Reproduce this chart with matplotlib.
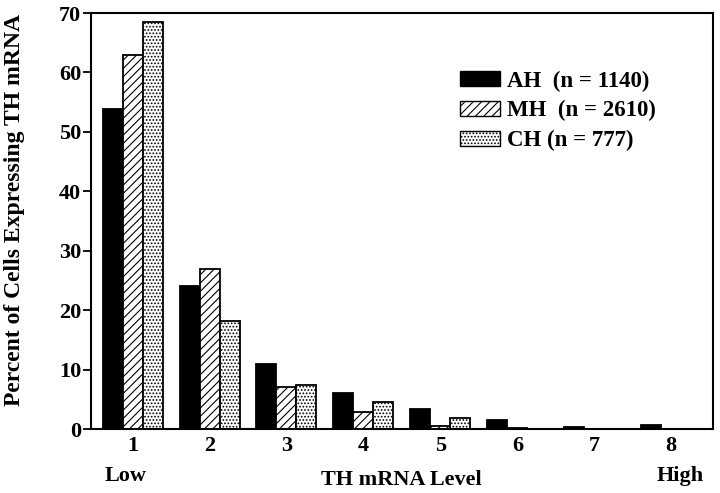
import numpy as np
import matplotlib.pyplot as plt
from matplotlib.patches import Patch

plt.rcParams['font.family'] = ['Liberation Serif', 'DejaVu Serif']
plt.rcParams['font.weight'] = 'bold'
plt.rcParams['hatch.linewidth'] = 0.8

# данные
levels = [1, 2, 3, 4, 5, 6, 7, 8]
ah = [53.8, 24.1, 10.9, 6.1, 3.4, 1.5, 0.35, 0.6]
mh = [63.0, 26.9, 7.1, 2.9, 0.45, 0.2, 0.0, 0.0]
ch = [68.5, 18.1, 7.35, 4.5, 1.9, 0.0, 0.0, 0.0]
labels = ['AH  (n = 1140)', 'MH  (n = 2610)', 'CH (n = 777)']

fig = plt.figure(figsize=(7.2, 4.93), dpi=100)
ax = fig.add_axes([0.1264, 0.1298, 0.8636, 0.8438])

x = np.array(levels)
w = 0.26
ax.bar(x - w, ah, w, color='black', edgecolor='black', linewidth=1.3)
ax.bar(x, mh, w, color='white', edgecolor='black', hatch='////', linewidth=1.3)
ax.bar(x + w, ch, w, color='white', edgecolor='black', hatch='.....', linewidth=1.3)

ax.set_xlim(0.46, 8.54)
ax.set_ylim(0, 70)
ax.set_yticks(range(0, 71, 10))
ax.set_xticks(levels)
ax.tick_params(axis='y', direction='out', length=6, width=1.3, labelsize=16, pad=1)
ax.tick_params(axis='x', length=0, labelsize=16, pad=5)
for s in ax.spines.values():
    s.set_linewidth(1.5)

ax.set_ylabel('Percent of Cells Expressing TH mRNA', fontsize=17, fontweight='bold')
ax.yaxis.set_label_coords(-0.106, 0.526)
fig.text(0.558, 0.027, 'TH mRNA Level', ha='center', va='center', fontsize=16, fontweight='bold')
fig.text(0.175, 0.034, 'Low', ha='center', va='center', fontsize=16, fontweight='bold')
fig.text(0.944, 0.034, 'High', ha='center', va='center', fontsize=16, fontweight='bold')

handles = [Patch(facecolor='black', edgecolor='black'),
           Patch(facecolor='white', edgecolor='black', hatch='////'),
           Patch(facecolor='white', edgecolor='black', hatch='.....')]
leg = ax.legend(handles, labels, loc='upper left', bbox_to_anchor=(0.593, 0.862), frameon=False,
                handlelength=1.75, handleheight=0.62, handletextpad=0.3,
                labelspacing=0.38, borderpad=0, borderaxespad=0,
                prop={'weight': 'bold', 'size': 16.5})

fig.savefig('out.png', dpi=100)
